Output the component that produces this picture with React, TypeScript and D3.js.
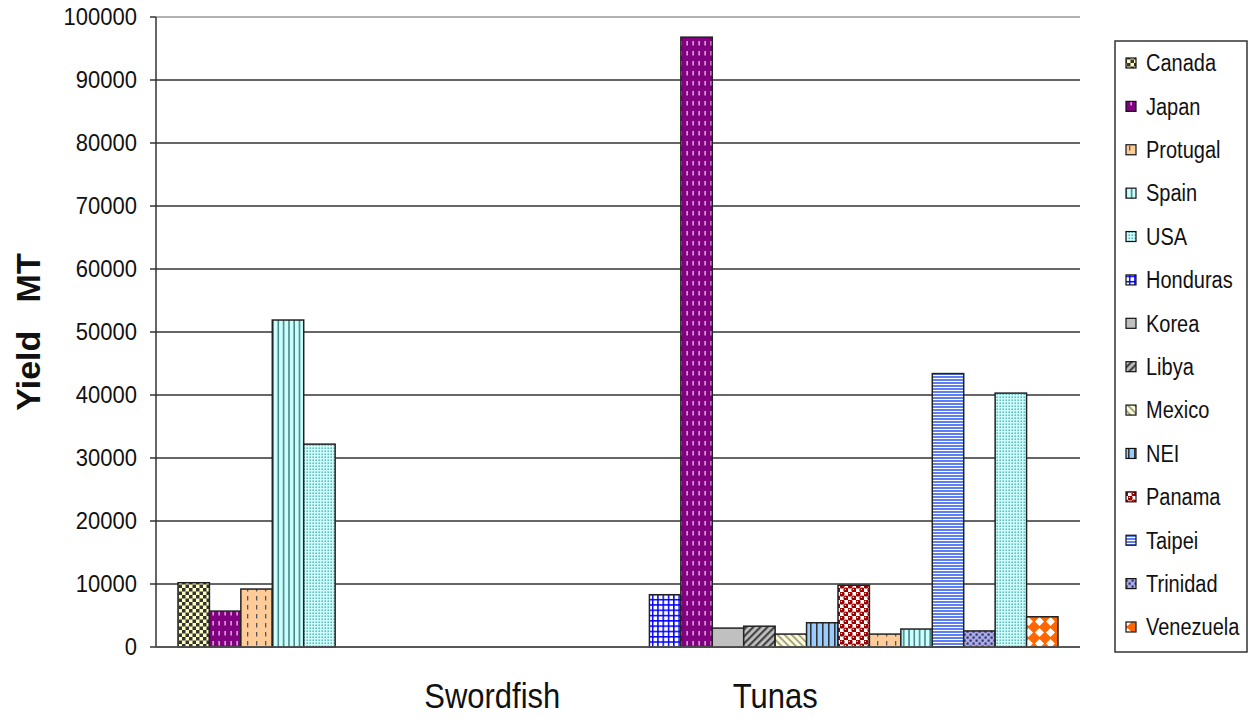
import React from "react";
import * as d3 from "d3";

const categories = ["Swordfish", "Tunas"];
const categoryLabelSlot = [10, 19];
const seriesNames = ["Canada", "Japan", "Protugal", "Spain", "USA", "Honduras", "Korea", "Libya", "Mexico", "NEI", "Panama", "Taipei", "Trinidad", "Venezuela"];
const swordfishCountries = ["Canada", "Japan", "Protugal", "Spain", "USA"];
const swordfishValues = [10200, 5700, 9200, 51900, 32200];
const tunasCountries = ["Honduras", "Japan", "Korea", "Libya", "Mexico", "NEI", "Panama", "Protugal", "Spain", "Taipei", "Trinidad", "USA", "Venezuela"];
const tunasValues = [8300, 96800, 3000, 3300, 2050, 3850, 9800, 2050, 2850, 43400, 2550, 40300, 4800];
const categoryStartSlot = [0, 15];
const yTicks = [0, 10000, 20000, 30000, 40000, 50000, 60000, 70000, 80000, 90000, 100000];

const FONT = "Arial, 'Liberation Sans', sans-serif";

const W = 1251, H = 719;
const PL = 156, PR = 1080, PT = 17, PB = 647;

function patId(name: string) {
  return "pat-" + name;
}

function Patterns() {
  return (
    <defs>
      <pattern id={patId("Canada")} width={7} height={7} patternUnits="userSpaceOnUse">
        <rect width={7} height={7} fill="#FFFFC0" />
        <rect x={0} y={0} width={3.5} height={3.5} fill="#333" />
        <rect x={3.5} y={3.5} width={3.5} height={3.5} fill="#333" />
      </pattern>
      <pattern id={patId("Japan")} width={6} height={10} patternUnits="userSpaceOnUse">
        <rect width={6} height={10} fill="#800080" />
        <rect x={2.5} y={1} width={1.2} height={4.5} fill="#F4D8F4" />
      </pattern>
      <pattern id={patId("Protugal")} width={9} height={9} patternUnits="userSpaceOnUse">
        <rect width={9} height={9} fill="#FFCC99" />
        <rect x={4} y={2} width={1.3} height={4.5} fill="#555" />
      </pattern>
      <pattern id={patId("Spain")} width={5.3} height={10} patternUnits="userSpaceOnUse">
        <rect width={5.3} height={10} fill="#CCFFFF" />
        <rect x={2} y={0} width={1.5} height={10} fill="#3F7F7F" />
      </pattern>
      <pattern id={patId("USA")} width={3} height={3} patternUnits="userSpaceOnUse">
        <rect width={3} height={3} fill="#CCFFFF" />
        <rect x={0.5} y={0.5} width={1.4} height={1.4} fill="#4FA8A8" />
      </pattern>
      <pattern id={patId("Honduras")} width={5.3} height={5.3} patternUnits="userSpaceOnUse">
        <rect width={5.3} height={5.3} fill="#FFFFFF" />
        <rect x={0} y={0} width={1.5} height={5.3} fill="#0000FF" />
        <rect x={0} y={0} width={5.3} height={1.5} fill="#0000FF" />
      </pattern>
      <pattern id={patId("Korea")} width={4} height={4} patternUnits="userSpaceOnUse">
        <rect width={4} height={4} fill="#C0C0C0" />
      </pattern>
      <pattern id={patId("Libya")} width={5} height={5} patternUnits="userSpaceOnUse" patternTransform="rotate(45)">
        <rect width={5} height={5} fill="#C0C0C0" />
        <rect x={0} y={0} width={2.2} height={5} fill="#444" />
      </pattern>
      <pattern id={patId("Mexico")} width={5} height={5} patternUnits="userSpaceOnUse" patternTransform="rotate(-45)">
        <rect width={5} height={5} fill="#FFFFCC" />
        <rect x={0} y={0} width={1.8} height={5} fill="#999" />
      </pattern>
      <pattern id={patId("NEI")} width={6} height={10} patternUnits="userSpaceOnUse">
        <rect width={6} height={10} fill="#99CCFF" />
        <rect x={0} y={0} width={1.6} height={10} fill="#333" />
      </pattern>
      <pattern id={patId("Panama")} width={8} height={8} patternUnits="userSpaceOnUse">
        <rect width={8} height={8} fill="#FFFFFF" />
        <circle cx={2} cy={2} r={2.6} fill="#990000" />
        <circle cx={6} cy={6} r={2.6} fill="#990000" />
        <circle cx={1.4} cy={1.4} r={0.7} fill="#FFDDDD" />
        <circle cx={5.4} cy={5.4} r={0.7} fill="#FFDDDD" />
      </pattern>
      <pattern id={patId("Taipei")} width={6} height={3} patternUnits="userSpaceOnUse">
        <rect width={6} height={3} fill="#5E7EF5" />
        <rect x={0} y={0} width={6} height={1} fill="#FFFFFF" />
      </pattern>
      <pattern id={patId("Trinidad")} width={6} height={6} patternUnits="userSpaceOnUse">
        <rect width={6} height={6} fill="#AAAAEE" />
        <rect x={0.5} y={0.5} width={2.2} height={2.2} fill="#333355" />
        <rect x={3.5} y={3.5} width={2.2} height={2.2} fill="#333355" />
      </pattern>
      <pattern id={patId("Venezuela")} width={11} height={11} patternUnits="userSpaceOnUse">
        <rect width={11} height={11} fill="#FF6600" />
        <path d="M5.5,1 L10,5.5 L5.5,10 L1,5.5 Z" fill="#FFFFFF" />
      </pattern>
    </defs>
  );
}

export default function App() {
  const y = d3.scaleLinear().domain([0, 100000]).range([PB, PT]);
  const x = d3.scaleLinear().domain([-0.7, 28.7]).range([PL, PR]);

  const groups = [
    { countries: swordfishCountries, values: swordfishValues },
    { countries: tunasCountries, values: tunasValues },
  ];

  const legendY = d3.scalePoint<string>().domain(seriesNames).range([63, 627]);

  return (
    <svg width={W} height={H} style={{ position: "absolute", left: 0, top: 0, background: "#fff" }} fontFamily={FONT}>
      <Patterns />
      {/* gridlines */}
      {yTicks.map((t) => (
        <line key={"g" + t} x1={PL} x2={PR} y1={y(t)} y2={y(t)} stroke={t === 100000 ? "#999" : "#333"} strokeWidth={1.5} />
      ))}
      {/* tick marks and labels */}
      {yTicks.map((t) => (
        <g key={"t" + t}>
          <line x1={PL - 6} x2={PL} y1={y(t)} y2={y(t)} stroke="#333" strokeWidth={1.5} />
          <g transform={`translate(137,${y(t)}) scale(1,1.06)`}>
            <text x={0} y={0} dy="0.36em" textAnchor="end" fontSize={22} fill="#111">
              {t}
            </text>
          </g>
        </g>
      ))}
      {/* bars */}
      {groups.map((g, gi) =>
        g.countries.map((c, i) => {
          const slot = categoryStartSlot[gi] + i;
          const v = g.values[i];
          return (
            <rect
              key={gi + "-" + c}
              x={x(slot)}
              y={y(v)}
              width={x(slot + 1) - x(slot)}
              height={y(0) - y(v)}
              fill={`url(#${patId(c)})`}
              stroke="#222"
              strokeWidth={1.5}
            />
          );
        })
      )}
      {/* axes */}
      <line x1={PL} x2={PL} y1={PT} y2={PB} stroke="#333" strokeWidth={1.5} />
      <line x1={PL} x2={PR} y1={PB} y2={PB} stroke="#555" strokeWidth={1.5} />
      {/* category labels */}
      {categories.map((c, i) => (
        <g key={c} transform={`translate(${x(categoryLabelSlot[i])},708) scale(1,1.13)`}>
          <text x={0} y={0} textAnchor="middle" fontSize={31} fill="#111">
            {c}
          </text>
        </g>
      ))}
      {/* y title */}
      <text transform={`translate(40,332) rotate(-90)`} textAnchor="middle" fontSize={34} fontWeight="bold" fill="#111">
        Yield{"\u00a0\u00a0\u00a0"}MT
      </text>
      {/* legend */}
      <rect x={1115} y={41} width={132} height={611} fill="#fff" stroke="#333" strokeWidth={1.5} />
      {seriesNames.map((s) => {
        const ly = legendY(s) as number;
        return (
          <g key={"l" + s}>
            <rect x={1126} y={ly - 5} width={10} height={10} fill={`url(#${patId(s)})`} stroke="#111" strokeWidth={1.2} />
            <g transform={`translate(1146,${ly}) scale(1,1.15)`}>
              <text x={0} y={0} dy="0.36em" fontSize={20} fill="#111">
                {s}
              </text>
            </g>
          </g>
        );
      })}
    </svg>
  );
}
